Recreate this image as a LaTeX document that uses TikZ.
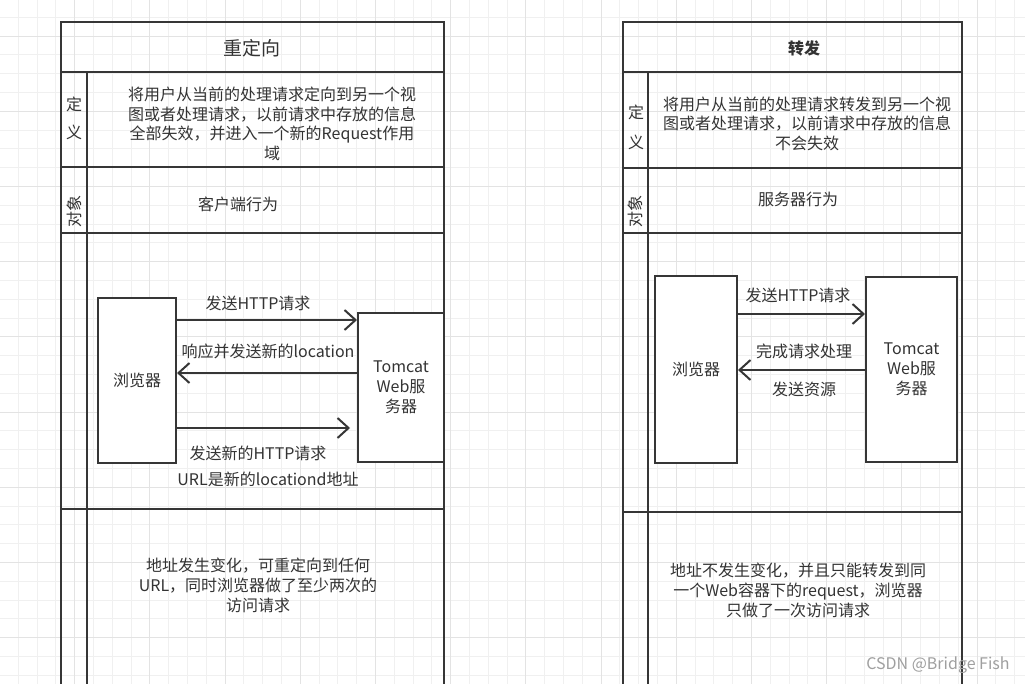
\documentclass[tikz,border=0pt]{standalone}
\usepackage{fontspec}
\setmainfont{Noto Sans CJK SC}
\usetikzlibrary{arrows.meta}
\definecolor{linegray}{HTML}{363636}
\definecolor{txtgray}{HTML}{333333}

\begin{document}
\begin{tikzpicture}[x=1pt, y=-1pt]

\tikzstyle{grid_style} = [draw=gray!12, line width=1]
\tikzstyle{major_style} = [draw=gray!22, line width=1]
\tikzstyle{line_style} = [draw=linegray, line width=2]
\tikzstyle{box_style} = [rectangle, draw=linegray, fill=white, line width=2, text=txtgray, font=\fontsize{16}{20}\selectfont, align=center, inner sep=0]
\tikzstyle{text_style} = [text=txtgray, font=\fontsize{16}{20}\selectfont, align=center, inner sep=0]
\tikzstyle{edge_style} = [draw=linegray, line width=2, -{Straight Barb[length=11pt, width=20pt]}]

\useasboundingbox (0,0) rectangle (1025,684);
\fill[white] (0,0) rectangle (1025,684);

\foreach \i in {0,...,54} \draw[grid_style] (\i*18.8-0.5,0) -- (\i*18.8-0.5,684);
\foreach \i in {0,...,37} \draw[grid_style] (0,\i*18.8-1.5) -- (1025,\i*18.8-1.5);
\foreach \i in {0,4,...,52} \draw[major_style] (\i*18.8-0.5,0) -- (\i*18.8-0.5,684);
\foreach \i in {2,6,...,38} \draw[major_style] (0,\i*18.8-1.5) -- (1025,\i*18.8-1.5);

\draw[line_style] (61,684) -- (61,22) -- (444,22) -- (444,684);
\draw[line_style] (61,72) -- (444,72);
\draw[line_style] (61,167) -- (444,167);
\draw[line_style] (61,233) -- (444,233);
\draw[line_style] (61,509) -- (444,509);
\draw[line_style] (87,72) -- (87,684);

\draw[line_style] (623,684) -- (623,22) -- (962,22) -- (962,684);
\draw[line_style] (623,72) -- (962,72);
\draw[line_style] (623,168) -- (962,168);
\draw[line_style] (623,233) -- (962,233);
\draw[line_style] (623,512) -- (962,512);
\draw[line_style] (648,72) -- (648,684);

\node[text_style, font=\fontsize{19}{22}\selectfont] (h1) at (252,48) {重定向};
\node[text_style, font=\bfseries\fontsize{16}{20}\selectfont] (h2) at (804,48) {转发};

\node[text_style, font=\fontsize{16}{28}\selectfont] (d1) at (74,118) {定\\义};
\node[text_style, font=\fontsize{16}{30}\selectfont] (d2) at (636,127) {定\\义};
\node[text_style, rotate=90] (o1) at (74,212) {对象};
\node[text_style, rotate=90] (o2) at (635,212) {对象};

\node[text_style, font=\fontsize{16}{19.5}\selectfont] (t1) at (272,124) {将用户从当前的处理请求定向到另一个视\\图或者处理请求，以前请求中存放的信息\\全部失效，并进入一个新的Request作用\\域};
\node[text_style, font=\fontsize{16}{19.5}\selectfont] (t2) at (807,123.5) {将用户从当前的处理请求转发到另一个视\\图或者处理请求，以前请求中存放的信息\\不会失效};

\node[text_style] (c1) at (238,204) {客户端行为};
\node[text_style] (c2) at (798,199) {服务器行为};

\node[box_style, minimum width=78pt, minimum height=165pt] (b1) at (137,380.5) {浏览器};
\node[box_style, minimum width=86pt, minimum height=149pt] (s1) at (401,387.5) {Tomcat\\Web服\\务器};
\node[box_style, minimum width=82pt, minimum height=187pt] (b2) at (696,369.5) {浏览器};
\node[box_style, minimum width=91pt, minimum height=185pt] (s2) at (911.5,369.5) {Tomcat\\Web服\\务器};

\coordinate (e3) at (350,428);

\draw[edge_style] (b1.east |- 0,320) -- (s1.west |- 0,320);
\draw[edge_style] (s1.west |- 0,373) -- (b1.east |- 0,373);
\draw[edge_style] (b1.east |- e3) -- (e3);
\draw[edge_style] (b2.east |- 0,314) -- (s2.west |- 0,314);
\draw[edge_style] (s2.west |- 0,370) -- (b2.east |- 0,370);

\node[text_style] (l1) at (258,303) {发送HTTP请求};
\node[text_style] (l2) at (268,351) {响应并发送新的location};
\node[text_style] (l3) at (258,453) {发送新的HTTP请求};
\node[text_style] (l4) at (268,479) {URL是新的locationd地址};
\node[text_style] (l5) at (798,295) {发送HTTP请求};
\node[text_style] (l6) at (804,351) {完成请求处理};
\node[text_style] (l7) at (804,389) {发送资源};

\node[text_style] (r1) at (258,585) {地址发生变化，可重定向到任何\\URL，同时浏览器做了至少两次的\\访问请求};
\node[text_style] (r2) at (798,590) {地址不发生变化，并且只能转发到同\\一个Web容器下的request，浏览器\\只做了一次访问请求};

\node[text_style, text=gray!75] (w) at (938,665) {CSDN @Bridge Fish};

\end{tikzpicture}
\end{document}
